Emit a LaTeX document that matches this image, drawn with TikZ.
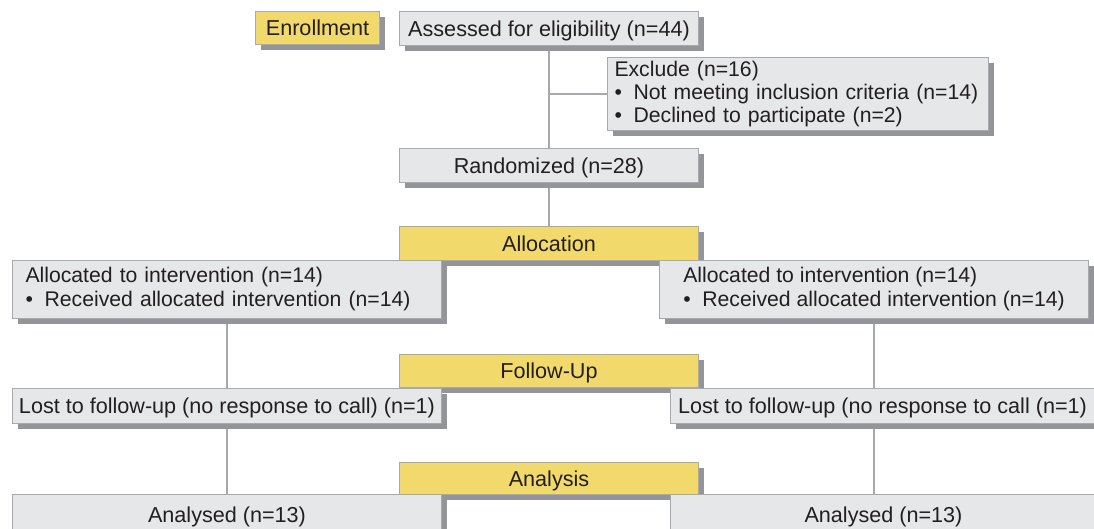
\documentclass[tikz,border=0pt]{standalone}
\usepackage{fontspec}
\setmainfont{Liberation Sans}
\usetikzlibrary{shadows,backgrounds}

\definecolor{boxfill}{HTML}{E6E7E8}
\definecolor{boxline}{HTML}{A7A9AC}
\definecolor{shadowgray}{HTML}{939598}
\definecolor{phaseyellow}{HTML}{F2D96B}
\definecolor{inkdark}{HTML}{231F20}

\newcommand{\itembullet}{\textbullet\hspace{0.55em}}

\tikzset{
  box/.style={draw=boxline, fill=boxfill, line width=1pt, anchor=north west,
    inner sep=0pt, text=inkdark, font=\fontsize{21.6}{24}\selectfont,
    drop shadow={shadow xshift=5.5pt, shadow yshift=-5.5pt, fill=shadowgray, opacity=1}},
  onebox/.style={box, text depth=0pt},
  phase/.style={onebox, fill=phaseyellow},
  listbox/.style={box, align=left, font=\fontsize{21.2}{24}\selectfont},
  link/.style={draw=boxline, line width=1.2pt}
}

\begin{document}
\begin{tikzpicture}[x=1pt, y=-1pt]
    \useasboundingbox (0,0) rectangle (1094,528);
    % phase labels
    \node[phase, minimum width=124, minimum height=33] (enrol) at (255,11) {Enrollment};
    \node[phase, minimum width=299, minimum height=34] (alloc) at (399,226) {Allocation};
    \node[phase, minimum width=299, minimum height=33] (follow) at (399,354) {Follow-Up};
    \node[phase, minimum width=299, minimum height=32] (anal) at (399,462) {Analysis};
    % enrollment
    \node[onebox, minimum width=299, minimum height=34] (assess) at (399,11) {Assessed for eligibility (n=44)};
    \node[listbox, minimum width=381, minimum height=73, text width=367, inner xsep=7pt] (exclude) at (607,57)
        {\mbox{Exclude (n=16)}\\[-1pt]
         \mbox{\itembullet Not meeting inclusion criteria (n=14)}\\[-1pt]
         \mbox{\itembullet Declined to participate (n=2)}};
    \node[onebox, minimum width=299, minimum height=34] (random) at (399,148) {Randomized (n=28)};
    % allocation
    \node[listbox, minimum width=429, minimum height=58, text width=403, inner xsep=13pt] (leftalloc) at (12,260)
        {\mbox{Allocated to intervention (n=14)}\\
         \mbox{\itembullet Received allocated intervention (n=14)}};
    \node[listbox, minimum width=429, minimum height=58] (rightalloc) at (659,260)
        {Allocated to intervention (n=14)\\
         \itembullet Received allocated intervention (n=14)};
    % follow-up
    \node[onebox, minimum width=429, minimum height=35] (leftlost) at (12,388) {Lost to follow-up (no response to call) (n=1)};
    \node[onebox, minimum width=424, minimum height=35] (rightlost) at (670,388) {Lost to follow-up (no response to call (n=1)};
    % analysis
    \node[onebox, minimum width=429, minimum height=40] (leftanal) at (12,494) {Analysed (n=13)};
    \node[onebox, minimum width=426, minimum height=40] (rightanal) at (670,494) {Analysed (n=13)};
    % connectors
    \begin{pgfonlayer}{background}
    \draw[link] (assess.south) -- (random.north);
    \draw[link] (assess.south |- exclude.west) -- (exclude.west);
    \draw[link] (random.south) -- (alloc.north);
    \draw[link] (leftalloc.south) -- (leftlost.north);
    \draw[link] (leftlost.south) -- (leftanal.north);
    \draw[link] (rightalloc.south) -- (rightalloc.south |- rightlost.north);
    \draw[link] (rightalloc.south |- rightlost.south) -- (rightalloc.south |- rightanal.north);
    \end{pgfonlayer}
\end{tikzpicture}
\end{document}
